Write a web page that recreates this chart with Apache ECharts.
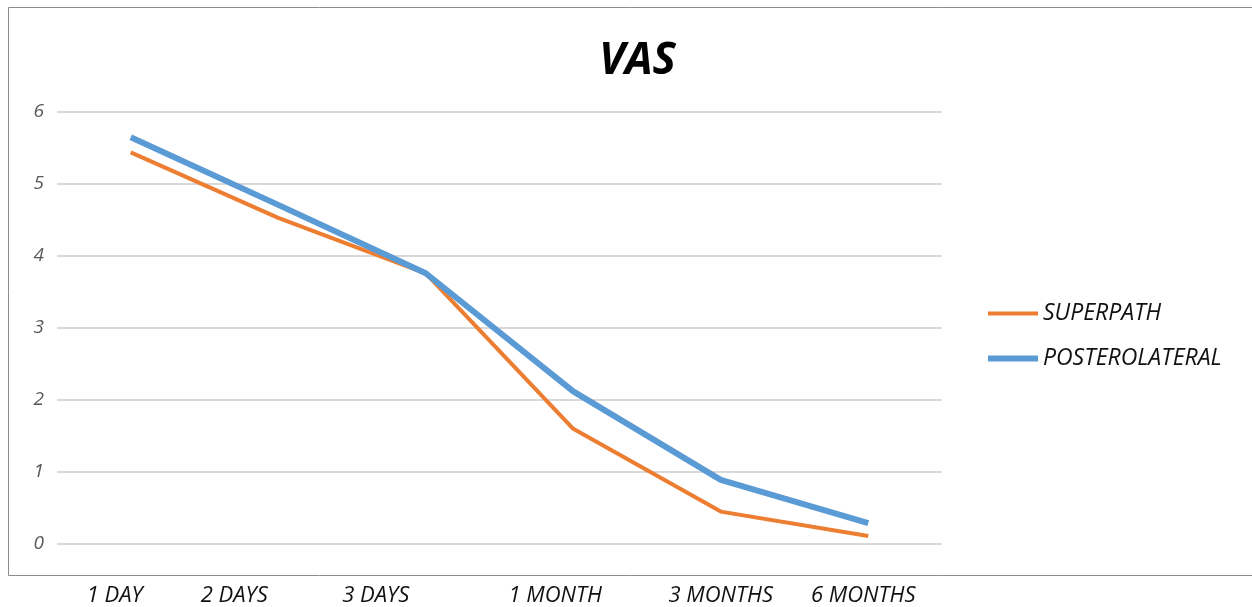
<!DOCTYPE html>
<html>
<head>
<meta charset="utf-8">
<script src="https://cdn.jsdelivr.net/npm/echarts@6/dist/echarts.min.js"></script>
<style>
  html, body { margin: 0; padding: 0; background: #fff; }
  #chart1 { width: 1252px; height: 607px; }
</style>
</head>
<body>
<div id="chart1"></div>
<script>
var categories = ['1 DAY', '2 DAYS', '3 DAYS', '1 MONTH', '3 MONTHS', '6 MONTHS'];
var superpath = [5.44, 4.53, 3.76, 1.6, 0.45, 0.11];
var posterolateral = [5.65, 4.71, 3.76, 2.12, 0.89, 0.29];
var yTicks = [0, 1, 2, 3, 4, 5, 6];

// labels sit a little left of their points in the original
var labelShift = [16, 44, 50, 18, 0, 5];

var dom = document.getElementById('chart1');
var myChart = echarts.init(dom);

var rich = {};
labelShift.forEach(function (s, i) {
  rich['l' + i] = {
    fontFamily: 'Open Sans',
    fontStyle: 'italic',
    fontSize: 22,
    color: '#111',
    padding: [0, s * 2, 0, 0]
  };
});

var option = {
  backgroundColor: '#fff',
  title: {
    text: 'VAS',
    left: 594,
    top: 34,
    textStyle: {
      fontFamily: 'Open Sans',
      fontStyle: 'italic',
      fontWeight: 'bold',
      fontSize: 44,
      color: '#000'
    }
  },
  graphic: [{
    type: 'rect',
    left: 6,
    top: 5,
    shape: { width: 1300, height: 568 },
    style: { fill: 'none', stroke: '#8c8c8c', lineWidth: 1 },
    silent: true
  }],
  legend: {
    orient: 'vertical',
    left: 983,
    top: 297,
    itemWidth: 50,
    itemHeight: 14,
    itemGap: 22,
    textStyle: {
      fontFamily: 'Open Sans',
      fontStyle: 'italic',
      fontSize: 23,
      color: '#111'
    },
    data: [
      { name: 'SUPERPATH', icon: 'path://M0,0H50V4H0Z' },
      { name: 'POSTEROLATERAL', icon: 'path://M0,0H50V6H0Z' }
    ]
  },
  grid: {
    left: 57,
    right: 310,
    top: 112,
    bottom: 62
  },
  xAxis: {
    type: 'category',
    boundaryGap: true,
    data: categories,
    axisLine: { show: false },
    axisTick: { show: false },
    axisLabel: {
      margin: 41,
      interval: 0,
      formatter: function (v, i) { return '{l' + i + '|' + v + '}'; },
      rich: rich
    }
  },
  yAxis: {
    type: 'value',
    min: yTicks[0],
    max: yTicks[yTicks.length - 1],
    interval: 1,
    axisLine: { show: false },
    axisTick: { show: false },
    axisLabel: {
      margin: 13,
      fontFamily: 'Open Sans',
      fontStyle: 'italic',
      fontSize: 19,
      color: '#595959'
    },
    splitLine: { lineStyle: { color: '#d9d9d9', width: 2 } }
  },
  series: [
    {
      name: 'SUPERPATH',
      type: 'line',
      data: superpath,
      symbol: 'none',
      showSymbol: false,
      itemStyle: { color: '#ED7D31' },
      lineStyle: { color: '#ED7D31', width: 4 }
    },
    {
      name: 'POSTEROLATERAL',
      type: 'line',
      data: posterolateral,
      symbol: 'none',
      showSymbol: false,
      itemStyle: { color: '#5B9BD5' },
      lineStyle: { color: '#5B9BD5', width: 6 }
    }
  ]
};

myChart.setOption(option);
</script>
</body>
</html>
